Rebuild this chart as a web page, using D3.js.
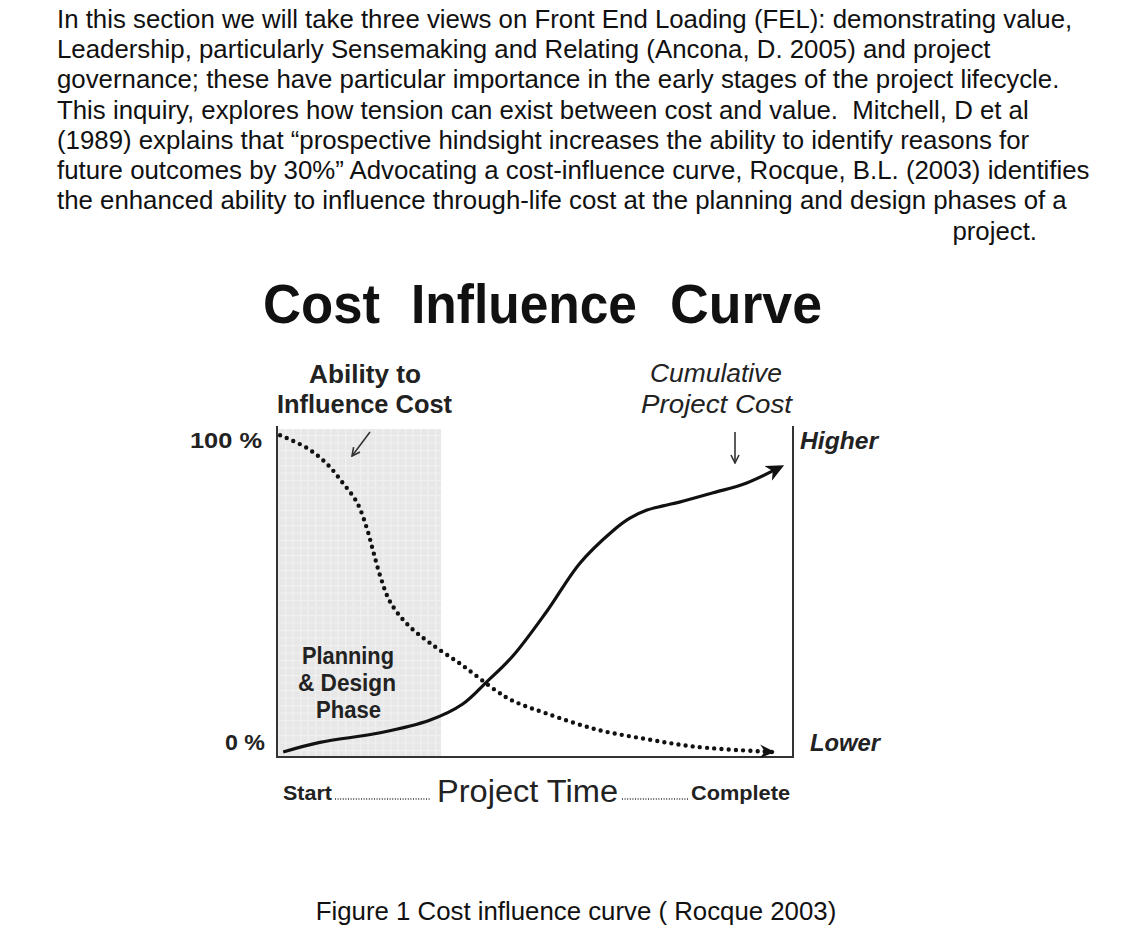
<!DOCTYPE html>
<html>
<meta charset="utf-8">
<style>
body { margin: 0; background: #fff; }
svg { display: block; }
</style>
<script src="https://d3js.org/d3.v7.min.js"></script>
<body>
<div id="chart"></div>
<script>
// intro paragraph, one entry per printed line
var paragraph = [
    "In this section we will take three views on Front End Loading (FEL): demonstrating value,",
    "Leadership, particularly Sensemaking and Relating (Ancona, D. 2005) and project",
    "governance; these have particular importance in the early stages of the project lifecycle.",
    "This inquiry, explores how tension can exist between cost and value.  Mitchell, D et al",
    "(1989) explains that \u201cprospective hindsight increases the ability to identify reasons for",
    "future outcomes by 30%\u201d Advocating a cost-influence curve, Rocque, B.L. (2003) identifies",
    "the enhanced ability to influence through-life cost at the planning and design phases of a"
];
var lastLine = "project.";
var titleWords = ["Cost", "Influence", "Curve"];

// project time (% of lifecycle) vs level (%)
var influenceTime  = [0.6, 5.8, 9.7, 12.8, 15.5, 17.4, 18.6, 20, 21.9, 25.2, 29.7, 36, 42.6, 45.7, 52.3, 62, 71.7, 81.4, 96];
var influenceLevel = [99, 95, 90, 84, 78, 70, 63, 55, 47, 40, 34, 27, 19, 16, 12, 7, 4, 1.6, 0];

var costTime  = [1.2, 8.3, 20, 29.7, 36, 40.7, 45.7, 52.3, 58.7, 65, 68.3, 71.7, 74.8, 78, 84.5, 90.9, 97.5];
var costLevel = [0, 3, 6, 10, 15, 22, 30, 44, 59, 69, 73, 75.6, 76.9, 78.1, 81, 84, 89];

var planningEnd = 31.6; // end of planning & design phase, % of time

var width = 1134, height = 929;
var svg = d3.select("#chart").append("svg")
    .attr("width", width)
    .attr("height", height);

var sans = "'Liberation Sans', Arial, sans-serif";
var narrow = "'Liberation Sans Narrow', 'Arial Narrow', 'Liberation Sans', sans-serif";

// paragraph
paragraph.forEach(function(t, i) {
    svg.append("text")
        .attr("x", 57)
        .attr("y", 28 + i * 30.2)
        .style("font-family", sans)
        .style("font-size", "25.8px")
        .style("white-space", "pre")
        .attr("fill", "#111")
        .text(t);
});
svg.append("text")
    .attr("x", 1037).attr("y", 240)
    .attr("text-anchor", "end")
    .style("font-family", sans)
    .style("font-size", "25.8px")
    .attr("fill", "#111")
    .text(lastLine);

// title, word by word
var titleX = [263, 411, 670], titleW = [117, 226, 152];
var title = svg.append("text")
    .attr("y", 323)
    .style("font-family", sans)
    .style("font-weight", "bold")
    .style("font-size", "55px")
    .attr("fill", "#111");
titleWords.forEach(function(w, i) {
    title.append("tspan")
        .attr("x", titleX[i])
        .attr("textLength", titleW[i])
        .attr("lengthAdjust", "spacingAndGlyphs")
        .text(w);
});

var x = d3.scaleLinear().domain([0, 100]).range([277, 793]);
var y = d3.scaleLinear().domain([0, 100]).range([752, 432]);

var frameTop = 426, frameBottom = 757;

// shaded planning phase with faint grid
var defs = svg.append("defs");
var pat = defs.append("pattern")
    .attr("id", "grid")
    .attr("width", 7.5).attr("height", 7.5)
    .attr("patternUnits", "userSpaceOnUse");
pat.append("rect").attr("width", 7.5).attr("height", 7.5).attr("fill", "#e7e7e7");
pat.append("path").attr("d", "M0,0.5H7.5M0.5,0V7.5").attr("stroke", "#f0f0f0").attr("stroke-width", 1.5);

svg.append("rect")
    .attr("x", x(0) + 1).attr("y", frameTop + 3)
    .attr("width", x(planningEnd) - x(0))
    .attr("height", frameBottom - frameTop - 4)
    .attr("fill", "url(#grid)");

// arrow markers
defs.append("marker")
    .attr("id", "solidHead")
    .attr("viewBox", "0 0 12 12")
    .attr("refX", 9).attr("refY", 6)
    .attr("markerWidth", 18).attr("markerHeight", 18)
    .attr("markerUnits", "userSpaceOnUse")
    .attr("orient", "auto")
    .append("path")
    .attr("d", "M0,0.5 L12,6 L0,11.5 L3.5,6 Z")
    .attr("fill", "#111");

defs.append("marker")
    .attr("id", "dotHead")
    .attr("viewBox", "0 0 12 12")
    .attr("refX", 10).attr("refY", 6)
    .attr("markerWidth", 15).attr("markerHeight", 15)
    .attr("markerUnits", "userSpaceOnUse")
    .attr("orient", "auto")
    .append("path")
    .attr("d", "M0,0.5 L12,6 L0,11.5 L4,6 Z")
    .attr("fill", "#111");

defs.append("marker")
    .attr("id", "thinHead")
    .attr("viewBox", "0 0 10 10")
    .attr("refX", 9).attr("refY", 5)
    .attr("markerWidth", 10).attr("markerHeight", 10)
    .attr("markerUnits", "userSpaceOnUse")
    .attr("orient", "auto")
    .append("path")
    .attr("d", "M1,1 L9,5 L1,9")
    .attr("fill", "none")
    .attr("stroke", "#333")
    .attr("stroke-width", 1.6);

// frame: left, bottom, right
svg.append("path")
    .attr("d", "M" + x(0) + "," + frameTop + "V" + frameBottom + "H" + x(100) + "V" + frameTop)
    .attr("fill", "none")
    .attr("stroke", "#333")
    .attr("stroke-width", 2);

var line = d3.line()
    .x(function(d) { return x(d[0]); })
    .y(function(d) { return y(d[1]); })
    .curve(d3.curveCatmullRom.alpha(0.5));

// ability to influence cost (dotted)
svg.append("path")
    .datum(d3.zip(influenceTime, influenceLevel))
    .attr("d", line)
    .attr("fill", "none")
    .attr("stroke", "#111")
    .attr("stroke-width", 4.4)
    .attr("stroke-linecap", "round")
    .attr("stroke-dasharray", "0 7.2")
    .attr("marker-end", "url(#dotHead)");

// cumulative project cost (solid)
svg.append("path")
    .datum(d3.zip(costTime, costLevel))
    .attr("d", line)
    .attr("fill", "none")
    .attr("stroke", "#111")
    .attr("stroke-width", 3.2)
    .attr("marker-end", "url(#solidHead)");

// pointer arrows
svg.append("line")
    .attr("x1", 370).attr("y1", 432)
    .attr("x2", 352).attr("y2", 456)
    .attr("stroke", "#333").attr("stroke-width", 1.6)
    .attr("marker-end", "url(#thinHead)");

svg.append("line")
    .attr("x1", 735).attr("y1", 432)
    .attr("x2", 735).attr("y2", 463)
    .attr("stroke", "#333").attr("stroke-width", 1.6)
    .attr("marker-end", "url(#thinHead)");

function label(t, px, py, opts) {
    var el = svg.append("text")
        .attr("x", px).attr("y", py)
        .attr("text-anchor", opts.anchor || "start")
        .style("font-family", opts.family || narrow)
        .style("font-weight", opts.weight || "bold")
        .style("font-style", opts.style || "normal")
        .style("font-size", opts.size + "px")
        .attr("fill", opts.fill || "#222")
        .text(t);
    if (opts.len) el.attr("textLength", opts.len).attr("lengthAdjust", "spacingAndGlyphs");
    return el;
}

label("Ability to", 365, 383, { anchor: "middle", size: 25, len: 112 });
label("Influence Cost", 364.5, 413, { anchor: "middle", size: 25, len: 175 });
label("Cumulative", 716, 382, { anchor: "middle", size: 25, style: "italic", weight: "normal", len: 132 });
label("Project Cost", 716.5, 413, { anchor: "middle", size: 25, style: "italic", weight: "normal", len: 151 });

label("100 %", 262, 448, { anchor: "end", size: 22, len: 72 });
label("0 %", 265, 750, { anchor: "end", size: 22, len: 40 });
label("Higher", 800, 449, { size: 24, style: "italic", len: 78 });
label("Lower", 810, 751, { size: 24, style: "italic", len: 70 });

label("Planning", 348, 664, { anchor: "middle", size: 23, len: 92 });
label("& Design", 347, 691, { anchor: "middle", size: 23, len: 98 });
label("Phase", 348.5, 718, { anchor: "middle", size: 23, len: 65 });

label("Start", 283, 800, { size: 21, len: 49 });
label("Project Time", 437, 802, { size: 31, weight: "normal", len: 181 });
label("Complete", 691, 800, { size: 21, len: 99 });

// dotted leaders between the time labels
svg.append("line")
    .attr("x1", 335).attr("x2", 431).attr("y1", 799).attr("y2", 799)
    .attr("stroke", "#333").attr("stroke-width", 1.3)
    .attr("stroke-dasharray", "1 1.6");
svg.append("line")
    .attr("x1", 622).attr("x2", 688).attr("y1", 799).attr("y2", 799)
    .attr("stroke", "#333").attr("stroke-width", 1.3)
    .attr("stroke-dasharray", "1 1.6");

// caption
svg.append("text")
    .attr("x", 576).attr("y", 920)
    .attr("text-anchor", "middle")
    .style("font-family", sans)
    .style("font-size", "25.8px")
    .attr("fill", "#111")
    .text("Figure 1 Cost influence curve ( Rocque 2003)");
</script>
</body>
</html>
